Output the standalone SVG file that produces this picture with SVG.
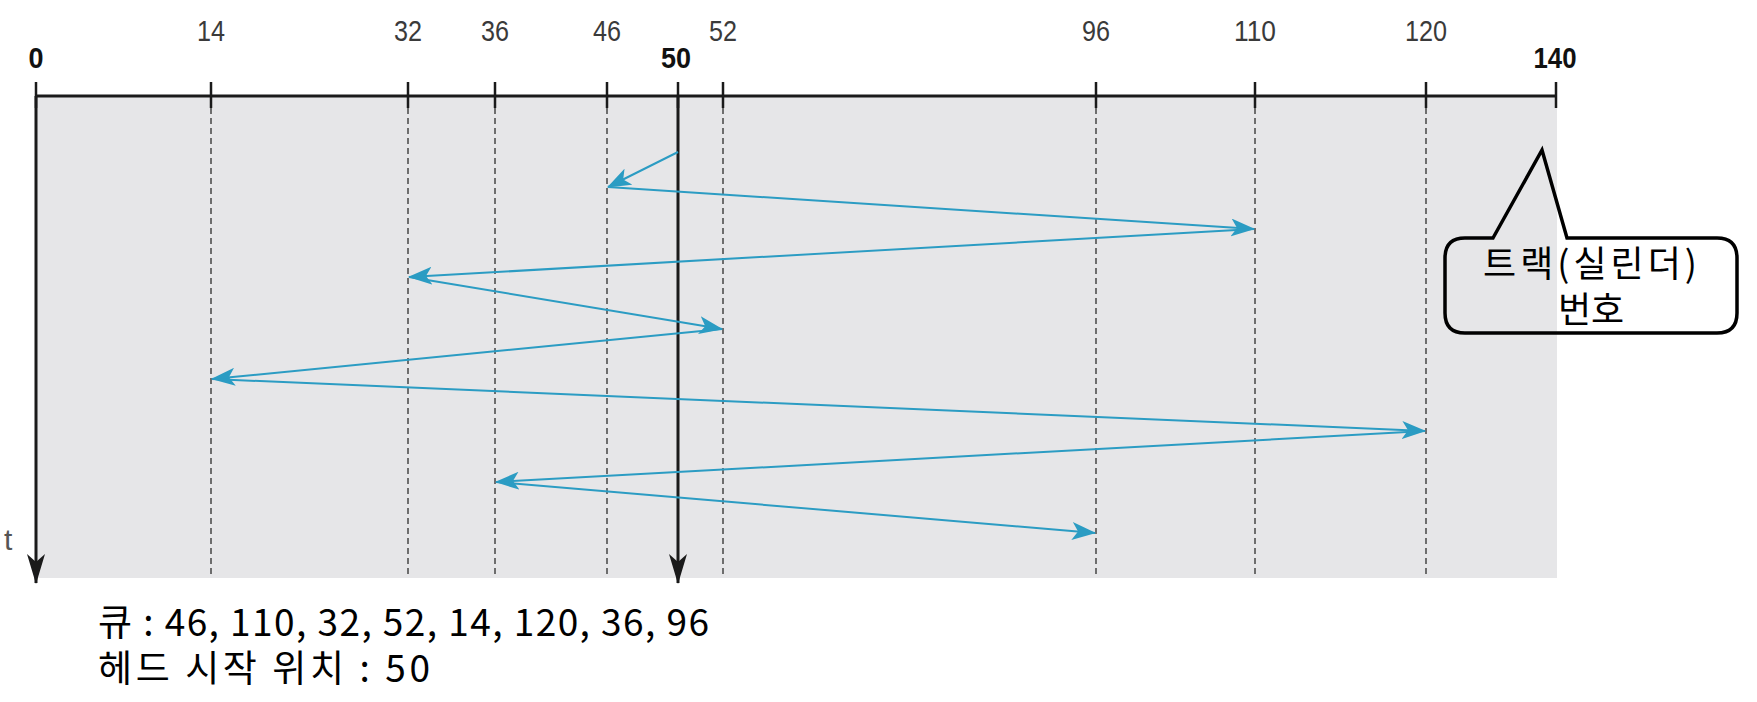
<svg xmlns="http://www.w3.org/2000/svg" width="1757" height="702" viewBox="0 0 1757 702">
<defs>
<marker id="blueHead" viewBox="0 0 24 18" refX="23" refY="9" markerWidth="24" markerHeight="18" markerUnits="userSpaceOnUse" orient="auto">
<path d="M0,0 L24,9 L0,18 L6,9 z" fill="#2b9cc3"/>
</marker>
<marker id="blackHead" viewBox="0 0 30 18" refX="29" refY="9" markerWidth="30" markerHeight="18" markerUnits="userSpaceOnUse" orient="auto">
<path d="M0,0 L30,9 L0,18 L8,9 z" fill="#1a1a1a"/>
</marker>
</defs>
<style>
.tick{stroke:#1a1a1a;stroke-width:2.5}
.dash{stroke:#3a3a3a;stroke-width:1.4;stroke-dasharray:6 4;fill:none}
.lbl{font-family:"Liberation Sans",Arial,sans-serif;font-size:29px;fill:#3a3a3a;text-anchor:middle}
.lblb{font-family:"Liberation Sans",Arial,sans-serif;font-size:29px;fill:#111;font-weight:bold;text-anchor:middle}
.path{stroke:#2b9cc3;stroke-width:2;fill:none;marker-end:url(#blueHead)}
.kr{font-family:"Noto Sans CJK KR","Noto Sans",sans-serif;fill:#000}
</style>
<rect x="36" y="96" width="1521" height="482" fill="#e6e6e8"/>
<g id="axis">
<line x1="36" y1="96" x2="1556" y2="96" stroke="#1a1a1a" stroke-width="3"/>
<line class="tick" x1="36" y1="82" x2="36" y2="108"/>
<line class="tick" x1="211" y1="82" x2="211" y2="108"/>
<line class="tick" x1="408" y1="82" x2="408" y2="108"/>
<line class="tick" x1="495" y1="82" x2="495" y2="108"/>
<line class="tick" x1="607" y1="82" x2="607" y2="108"/>
<line class="tick" x1="678" y1="82" x2="678" y2="108"/>
<line class="tick" x1="723" y1="82" x2="723" y2="108"/>
<line class="tick" x1="1096" y1="82" x2="1096" y2="108"/>
<line class="tick" x1="1255" y1="82" x2="1255" y2="108"/>
<line class="tick" x1="1426" y1="82" x2="1426" y2="108"/>
<line class="tick" x1="1556" y1="82" x2="1556" y2="108"/>
<text class="lblb" x="36" y="68" textLength="15" lengthAdjust="spacingAndGlyphs">0</text>
<text class="lbl" x="211" y="41" textLength="28" lengthAdjust="spacingAndGlyphs">14</text>
<text class="lbl" x="408" y="41" textLength="28" lengthAdjust="spacingAndGlyphs">32</text>
<text class="lbl" x="495" y="41" textLength="28" lengthAdjust="spacingAndGlyphs">36</text>
<text class="lbl" x="607" y="41" textLength="28" lengthAdjust="spacingAndGlyphs">46</text>
<text class="lblb" x="676" y="68" textLength="30" lengthAdjust="spacingAndGlyphs">50</text>
<text class="lbl" x="723" y="41" textLength="28" lengthAdjust="spacingAndGlyphs">52</text>
<text class="lbl" x="1096" y="41" textLength="28" lengthAdjust="spacingAndGlyphs">96</text>
<text class="lbl" x="1255" y="41" textLength="42" lengthAdjust="spacingAndGlyphs">110</text>
<text class="lbl" x="1426" y="41" textLength="42" lengthAdjust="spacingAndGlyphs">120</text>
<text class="lblb" x="1555" y="68" textLength="43" lengthAdjust="spacingAndGlyphs">140</text>
</g>
<g id="time-axis">
<line x1="36" y1="96" x2="36" y2="583" stroke="#1a1a1a" stroke-width="3" marker-end="url(#blackHead)"/>
<text x="4" y="550" font-family="Liberation Sans,Arial,sans-serif" font-size="30" fill="#555">t</text>
</g>
<g id="head-start">
<line x1="678" y1="96" x2="678" y2="583" stroke="#1a1a1a" stroke-width="3" marker-end="url(#blackHead)"/>
</g>
<g id="gridlines">
<line class="dash" x1="211" y1="108" x2="211" y2="578"/>
<line class="dash" x1="408" y1="108" x2="408" y2="578"/>
<line class="dash" x1="495" y1="108" x2="495" y2="578"/>
<line class="dash" x1="607" y1="108" x2="607" y2="578"/>
<line class="dash" x1="723" y1="108" x2="723" y2="578"/>
<line class="dash" x1="1096" y1="108" x2="1096" y2="578"/>
<line class="dash" x1="1255" y1="108" x2="1255" y2="578"/>
<line class="dash" x1="1426" y1="108" x2="1426" y2="578"/>
</g>
<g id="connectors">
<line class="path" x1="678" y1="152" x2="608" y2="187"/>
<line class="path" x1="608" y1="187" x2="1254" y2="229"/>
<line class="path" x1="1254" y1="229" x2="409" y2="277"/>
<line class="path" x1="409" y1="277" x2="722" y2="329"/>
<line class="path" x1="722" y1="329" x2="212" y2="379"/>
<line class="path" x1="212" y1="379" x2="1425" y2="431"/>
<line class="path" x1="1425" y1="431" x2="496" y2="482"/>
<line class="path" x1="496" y1="482" x2="1095" y2="533"/>
</g>
<g id="callout">
<path d="M1493,238 L1542,150 L1567,238 L1717,238 Q1737,238 1737,258 L1737,313 Q1737,333 1717,333 L1465,333 Q1445,333 1445,313 L1445,258 Q1445,238 1465,238 Z" fill="none" stroke="#000" stroke-width="3.5" stroke-linejoin="miter"/>
<text class="kr" x="1590" y="277" font-size="36" text-anchor="middle" textLength="214" lengthAdjust="spacing">트랙(실린더)</text>
<text class="kr" x="1591" y="323" font-size="36" text-anchor="middle">번호</text>
</g>
<g id="notes">
<text class="kr" x="98" y="636" font-size="37" textLength="611" lengthAdjust="spacing">큐 : 46, 110, 32, 52, 14, 120, 36, 96</text>
<text class="kr" x="98" y="682" font-size="37" textLength="332" lengthAdjust="spacing">헤드 시작 위치 : 50</text>
</g>
</svg>
